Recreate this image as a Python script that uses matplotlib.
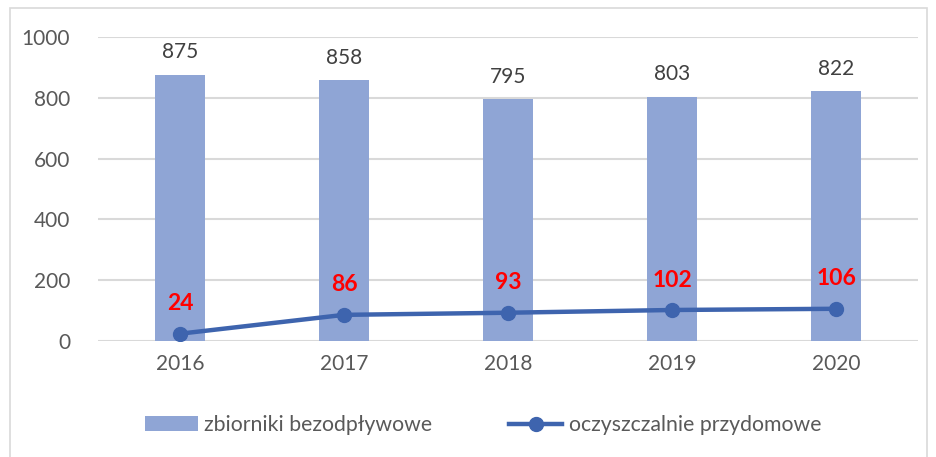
import matplotlib
matplotlib.use("Agg")
import matplotlib.pyplot as plt
from matplotlib.patches import Rectangle

years = ["2016", "2017", "2018", "2019", "2020"]
zbiorniki = [875, 858, 795, 803, 822]
oczyszczalnie = [24, 86, 93, 102, 106]

plt.rcParams['font.family'] = ['Lato', 'DejaVu Sans']

fig = plt.figure(figsize=(9.36, 4.57), dpi=100)
ax = fig.add_axes([98/936, 1 - 341/457, 820/936, 304/457])

bar_c = '#8FA5D5'
line_c = '#3E64AE'
x = list(range(len(years)))
bars = ax.bar(x, zbiorniki, width=0.31, color=bar_c, label='zbiorniki bezodpływowe', zorder=2)
line, = ax.plot(x, oczyszczalnie, color=line_c, lw=3.2, marker='o', ms=10,
                label='oczyszczalnie przydomowe', zorder=3)

for xi, v in zip(x, zbiorniki):
    ax.annotate(str(v), (xi, v), xytext=(0, 9), textcoords='offset points',
                ha='center', va='bottom', fontsize=15, color='#404040')
for xi, v in zip(x, oczyszczalnie):
    ax.annotate(str(v), (xi, v), xytext=(0, 14), textcoords='offset points',
                ha='center', va='bottom', fontsize=16.5, color='#FF0000', fontweight='bold')

ax.set_xlim(-0.5, 4.5)
ax.set_ylim(0, 1000)
ax.set_yticks([0, 200, 400, 600, 800, 1000])
ax.set_xticks(x)
ax.set_xticklabels(years)
ax.tick_params(axis='both', length=0, labelsize=15, labelcolor='#595959')
ax.tick_params(axis='y', pad=20)
ax.tick_params(axis='x', pad=9)
ax.grid(axis='y', color='#D9D9D9', lw=1.5, zorder=0)
ax.set_axisbelow(True)
for s in ax.spines.values():
    s.set_visible(False)

fig.legend([bars, line], ['zbiorniki bezodpływowe', 'oczyszczalnie przydomowe'],
           loc='center', bbox_to_anchor=(0.5 + 15/936, 1 - 425/457), ncol=2, frameon=False,
           fontsize=15.3, labelcolor='#595959', handlelength=2.5, columnspacing=3.6,
           handletextpad=0.3)

fig.patches.append(Rectangle((10/936, -0.05), 917/936, 1 - 8/457 + 0.05, transform=fig.transFigure,
                             fill=False, edgecolor='#D9D9D9', lw=1.2))

fig.savefig('out.png', dpi=100)
